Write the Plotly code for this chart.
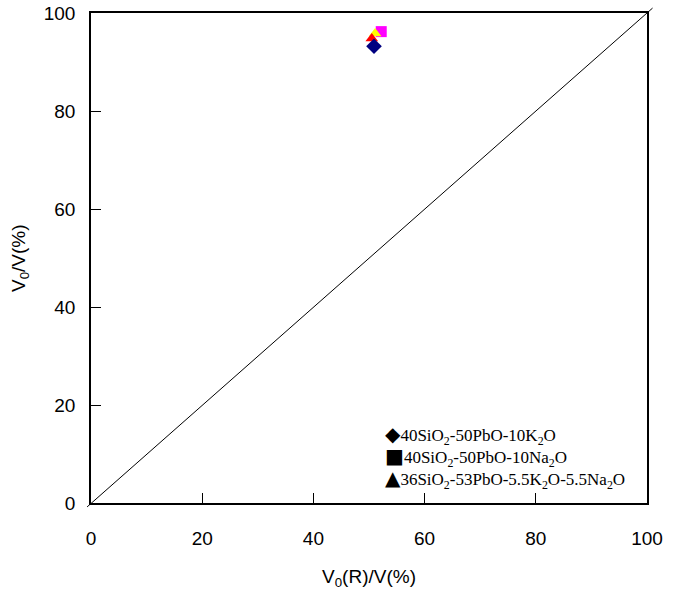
import plotly.graph_objects as go

# Data
series_names = ["40SiO2-50PbO-10K2O", "40SiO2-50PbO-10Na2O",
                "36SiO2-53PbO-5.5K2O-5.5Na2O", "series 4"]
x_values = [[50.9], [52.2], [51.1], [50.5]]
y_values = [[93.2], [96.2], [95.8], [94.8]]
symbols = ["diamond", "square", "triangle-up", "triangle-up"]
colors = ["#000080", "#FF00FF", "#FFFF00", "#FF0000"]
sizes = [12, 11, 11, 11]
draw_order = [1, 2, 3, 0]

legend_symbols = ["\u25C6", "\u25A0", "\u25B2"]
legend_labels = [
    "40SiO<sub>2</sub>-50PbO-10K<sub>2</sub>O",
    "40SiO<sub>2</sub>-50PbO-10Na<sub>2</sub>O",
    "36SiO<sub>2</sub>-53PbO-5.5K<sub>2</sub>O-5.5Na<sub>2</sub>O",
]
tick_vals = [0, 20, 40, 60, 80, 100]

tick_font = dict(family="Liberation Sans, Arial", size=19, color="black")

fig = go.Figure()
for i in draw_order:
    fig.add_trace(go.Scatter(
        x=x_values[i], y=y_values[i], mode="markers", name=series_names[i],
        marker=dict(symbol=symbols[i], color=colors[i], size=sizes[i],
                    line=dict(width=0)),
        showlegend=False, cliponaxis=False))

# diagonal reference line (extends slightly past the frame as in the original)
fig.add_shape(type="line", xref="paper", yref="paper",
              x0=-0.007, y0=-0.008, x1=1.01, y1=1.01,
              line=dict(color="black", width=1))

for k, (sym, lab) in enumerate(zip(legend_symbols, legend_labels)):
    fig.add_annotation(xref="paper", yref="paper", x=0.525, y=0.139 - k * 0.045,
                       xanchor="left", yanchor="middle", showarrow=False,
                       text=f"<span style='font-family:DejaVu Sans;font-size:20px'>{sym}</span>{lab}",
                       font=dict(family="Liberation Serif, Times New Roman", size=17, color="black"))

fig.add_annotation(xref="paper", yref="paper", x=0.5, y=0, yshift=-75,
                   xanchor="center", yanchor="middle", showarrow=False,
                   text="V<sub>0</sub>(R)/V(%)", font=tick_font)
fig.add_annotation(xref="paper", yref="paper", x=0, y=0.5, xshift=-71,
                   xanchor="center", yanchor="middle", showarrow=False, textangle=-90,
                   text="V<sub>0</sub>/V(%)", font=tick_font)

axis_common = dict(range=[0, 100], tickvals=tick_vals, showgrid=False, zeroline=False,
                   showline=True, linecolor="black", linewidth=1.5, mirror=True,
                   ticks="inside", ticklen=10, tickcolor="black", tickwidth=1,
                   tickfont=tick_font, automargin=False)
fig.update_xaxes(**axis_common, ticklabelstandoff=17)
fig.update_yaxes(**axis_common, ticklabelstandoff=10)

fig.update_layout(width=681, height=594, margin=dict(l=91, r=34, t=13, b=91),
                  plot_bgcolor="white", paper_bgcolor="white", showlegend=False)

fig.write_html("out.html")
